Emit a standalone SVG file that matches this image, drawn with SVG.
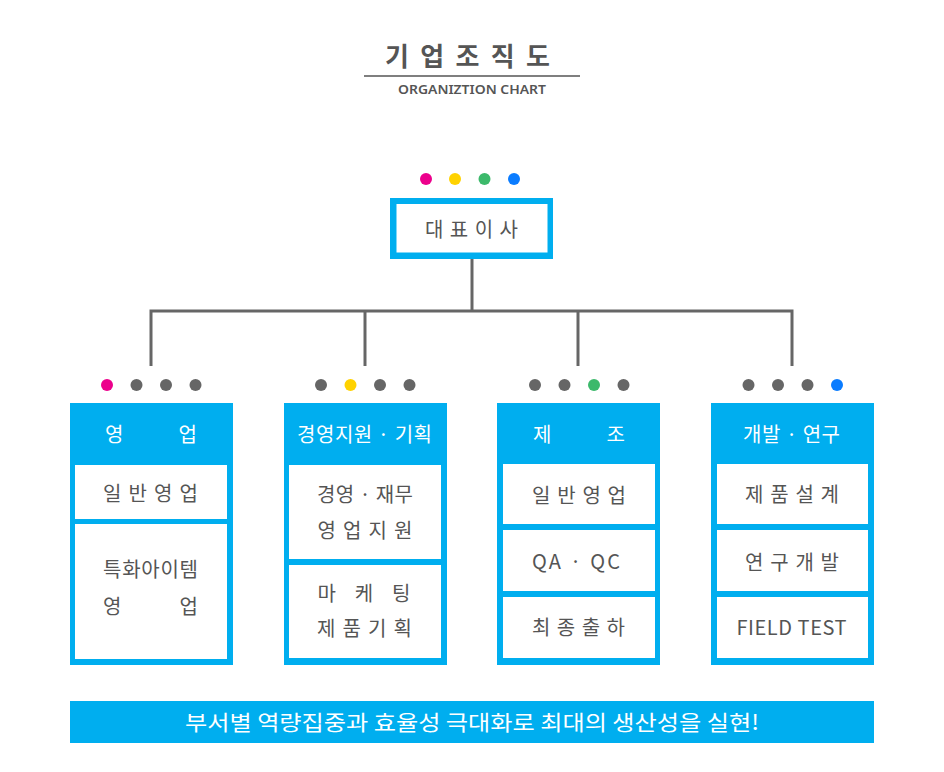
<svg xmlns="http://www.w3.org/2000/svg" width="944" height="772" viewBox="0 0 944 772">
<style>
text{font-family:"Noto Sans CJK KR","Noto Sans",sans-serif;text-anchor:middle;dominant-baseline:central;font-weight:400}
.t{fill:#555;font-size:20px}
.h{fill:#fff;font-size:20px}
.blue{fill:#00aeef}
.wb{fill:#fff}
.conn{stroke:#666;stroke-width:3;fill:none}
.g{fill:#666}
.m{fill:#ec008c}.y{fill:#ffd200}.gr{fill:#3cb96b}.b{fill:#0a7cff}
</style>
<rect width="944" height="772" fill="#fff"/>
<g id="title">
<text x="467.5" y="54" style="font-size:26px;fill:#555;font-weight:700" textLength="165" lengthAdjust="spacing">기업조직도</text>
<line x1="364" y1="76" x2="580" y2="76" stroke="#555" stroke-width="1.5"/>
<text x="472" y="89" style="font-size:13px;fill:#555;font-weight:600;font-family:'Noto Sans',sans-serif" textLength="148" lengthAdjust="spacingAndGlyphs">ORGANIZTION CHART</text>
</g>
<g id="connectors">
<line class="conn" x1="472" y1="258" x2="472" y2="311"/>
<polyline class="conn" points="151,366 151,311 792,311 792,366"/>
<line class="conn" x1="365" y1="311" x2="365" y2="366"/>
<line class="conn" x1="578" y1="311" x2="578" y2="366"/>
</g>
<g id="ceo">
<circle class="m" cx="426" cy="179" r="6"/><circle class="y" cx="455" cy="179" r="6"/><circle class="gr" cx="484.5" cy="179" r="6"/><circle class="b" cx="514" cy="179" r="6"/>
<rect class="blue" x="390" y="198" width="163" height="61"/>
<rect class="wb" x="396.5" y="204" width="151" height="48.5"/>
<text class="t" x="471.5" y="228" textLength="93" lengthAdjust="spacing">대표이사</text>
</g>
<g id="dept-sales">
<circle class="m" cx="107" cy="385" r="6"/><circle class="g" cx="136.5" cy="385" r="6"/><circle class="g" cx="166" cy="385" r="6"/><circle class="g" cx="195.5" cy="385" r="6"/>
<rect class="blue" x="70" y="403" width="163" height="262"/>
<text class="h" x="151" y="433" textLength="92" lengthAdjust="spacing">영 업</text>
<rect class="wb" x="75" y="465" width="152" height="54"/>
<text class="t" x="150.5" y="492" textLength="95" lengthAdjust="spacing">일반영업</text>
<rect class="wb" x="75" y="524" width="152" height="135"/>
<text class="t" x="150.5" y="568" textLength="95" lengthAdjust="spacing">특화아이템</text>
<text class="t" x="150.5" y="605" textLength="95" lengthAdjust="spacing">영 업</text>
</g>
<g id="dept-management">
<circle class="g" cx="321" cy="385" r="6"/><circle class="y" cx="350.5" cy="385" r="6"/><circle class="g" cx="380" cy="385" r="6"/><circle class="g" cx="409.5" cy="385" r="6"/>
<rect class="blue" x="284" y="403" width="163" height="262"/>
<text class="h" x="364.5" y="433" textLength="135" lengthAdjust="spacing">경영지원 · 기획</text>
<rect class="wb" x="289" y="465" width="152" height="94"/>
<text class="t" x="365" y="493" textLength="96" lengthAdjust="spacing">경영 · 재무</text>
<text class="t" x="365" y="529" textLength="95" lengthAdjust="spacing">영업지원</text>
<rect class="wb" x="289" y="565" width="152" height="93"/>
<text class="t" x="364" y="592" textLength="93" lengthAdjust="spacing">마 케 팅</text>
<text class="t" x="364.5" y="627" textLength="95" lengthAdjust="spacing">제품기획</text>
</g>
<g id="dept-manufacturing">
<circle class="g" cx="535" cy="385" r="6"/><circle class="g" cx="564.5" cy="385" r="6"/><circle class="gr" cx="594" cy="385" r="6"/><circle class="g" cx="623.5" cy="385" r="6"/>
<rect class="blue" x="497" y="403" width="163" height="262"/>
<text class="h" x="579" y="433" textLength="92" lengthAdjust="spacing">제 조</text>
<rect class="wb" x="503" y="464" width="152" height="60"/>
<text class="t" x="579" y="494" textLength="94" lengthAdjust="spacing">일반영업</text>
<rect class="wb" x="503" y="530" width="152" height="61"/>
<text class="t" x="576" y="560" textLength="88" lengthAdjust="spacing">QA · QC</text>
<rect class="wb" x="503" y="597" width="152" height="61"/>
<text class="t" x="578.5" y="626" textLength="93" lengthAdjust="spacing">최종출하</text>
</g>
<g id="dept-rnd">
<circle class="g" cx="748.5" cy="385" r="6"/><circle class="g" cx="778" cy="385" r="6"/><circle class="g" cx="807.5" cy="385" r="6"/><circle class="b" cx="837" cy="385" r="6"/>
<rect class="blue" x="711" y="403" width="163" height="262"/>
<text class="h" x="791.5" y="433" textLength="97" lengthAdjust="spacing">개발 · 연구</text>
<rect class="wb" x="717" y="464" width="151" height="60"/>
<text class="t" x="792" y="493" textLength="94" lengthAdjust="spacing">제품설계</text>
<rect class="wb" x="717" y="530" width="151" height="61"/>
<text class="t" x="792" y="561" textLength="94" lengthAdjust="spacing">연구개발</text>
<rect class="wb" x="717" y="597" width="151" height="61"/>
<text class="t" x="791.5" y="626" textLength="110" lengthAdjust="spacing">FIELD TEST</text>
</g>
<g id="banner">
<rect class="blue" x="70" y="701" width="804" height="42"/>
<text class="h" x="472" y="721" style="font-size:21px" textLength="574" lengthAdjust="spacingAndGlyphs">부서별 역량집중과 효율성 극대화로 최대의 생산성을 실현!</text>
</g>
</svg>
